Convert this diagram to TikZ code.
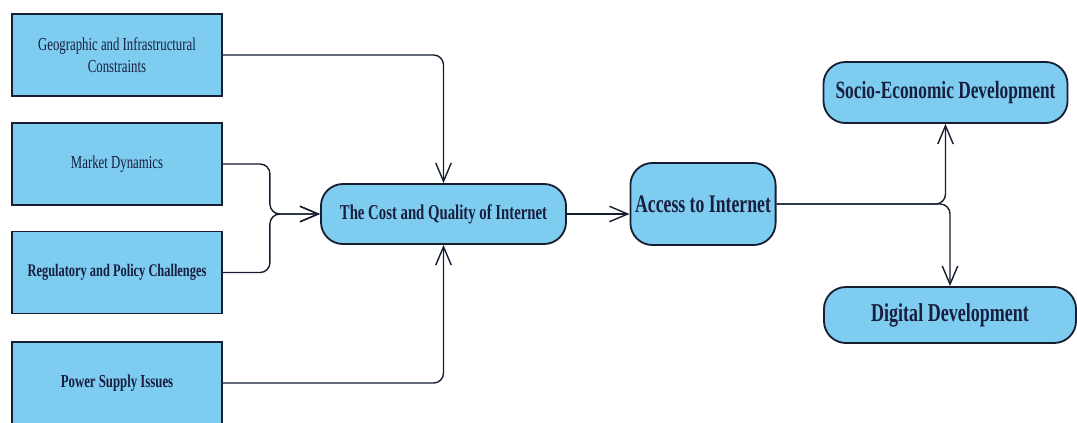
\documentclass[tikz,border=0pt]{standalone}
\usepackage{fontspec}
\setmainfont{Liberation Serif}
\newfontfamily\narrowserif[FakeStretch=0.7]{Liberation Serif}
\usepackage{tikz}
\usetikzlibrary{arrows.meta, positioning, calc}

\definecolor{boxfill}{RGB}{126,205,240}
\definecolor{boxline}{RGB}{22,30,48}
\definecolor{boxtext}{RGB}{24,30,62}

\tikzset{
  factor/.style={draw=boxline, line width=1.3pt, fill=boxfill, text=boxtext,
    minimum width=5.25cm, minimum height=2.05cm, align=center,
    font=\narrowserif\fontsize{13}{15.6}\selectfont},
  stage/.style={draw=boxline, line width=1.3pt, fill=boxfill, text=boxtext,
    rounded corners=0.55cm, align=center,
    font=\narrowserif\bfseries\fontsize{15}{18}\selectfont},
  flow/.style={draw=boxline, line width=1pt, rounded corners=7pt,
    -{Straight Barb[length=13pt, width=11pt]}}
}

\begin{document}
\begin{tikzpicture}[x=0.025cm, y=-0.025cm]
  \useasboundingbox (0,0) rectangle (1077,422);
  % factors on the left
  \node[factor] (geo) at (117,55) {Geographic and Infrastructural\\Constraints};
  \node[factor] (market) at (117,164) {Market Dynamics};
  \node[factor, font=\narrowserif\bfseries\fontsize{12.6}{15}\selectfont] (policy) at (117,272.5) {Regulatory and Policy Challenges};
  \node[factor, font=\narrowserif\bfseries\fontsize{13}{15.6}\selectfont] (power) at (117,383) {Power Supply Issues};
  % main chain
  \node[stage, minimum width=6.125cm, minimum height=1.5cm] (cost) at (443.5,214) {The Cost and Quality of Internet};
  \node[stage, minimum width=3.6cm, minimum height=2.05cm, font=\narrowserif\bfseries\fontsize{18}{21}\selectfont] (access) at (703,204) {Access to Internet};
  \node[stage, minimum width=6.1cm, minimum height=1.525cm, font=\narrowserif\bfseries\fontsize{17.6}{20}\selectfont] (socio) at (945.5,92.5) {Socio-Economic Development};
  \node[stage, minimum width=6.3cm, minimum height=1.4cm, font=\narrowserif\bfseries\fontsize{18.3}{21}\selectfont] (digital) at (950,315) {Digital Development};

  % connectors
  \draw[flow] (geo.east) -| (cost.north);
  \draw[flow] (power.east) -| (cost.south);
  \draw[flow] (market.east) -- ++(47,0) |- (cost.west);
  \draw[flow] (policy.east) -- ++(47,0) |- (cost.west);
  \draw[flow] (cost.east) -- (cost.east -| access.west);
  \draw[flow] (access.east) -| (socio.south);
  \draw[flow] (access.east) -| (digital.north);
\end{tikzpicture}
\end{document}
